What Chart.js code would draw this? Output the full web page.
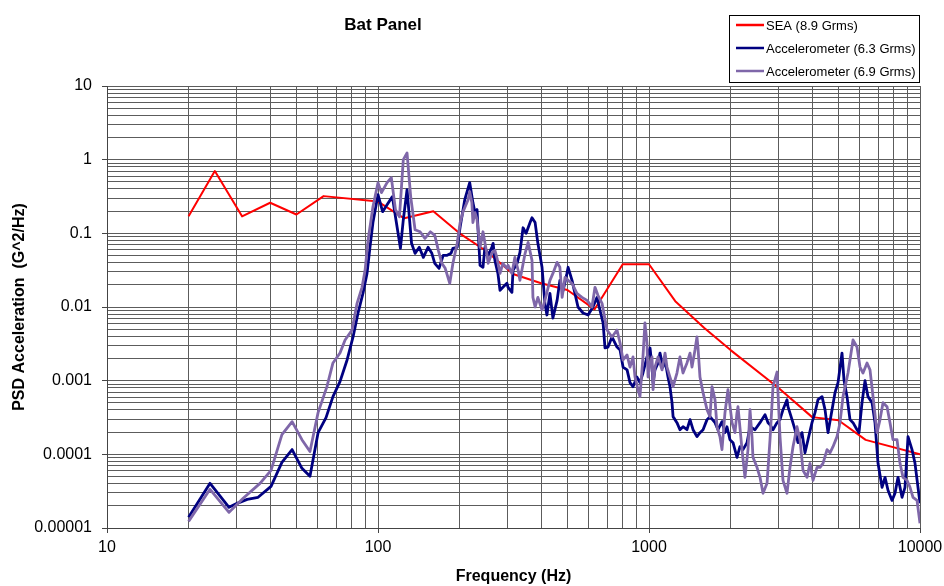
<!DOCTYPE html>
<html>
<head>
<meta charset="utf-8">
<title>Bat Panel</title>
<script src="https://cdn.jsdelivr.net/npm/chart.js@4.4.1/dist/chart.umd.min.js"></script>
<style>
  html, body { margin: 0; padding: 0; background: #ffffff; }
  canvas { display: block; }
</style>
</head>
<body>
<canvas id="psdChart" width="944" height="586"></canvas>
<script>
// SEA spec (8.9 Grms)
const seaFreq = [20, 25, 31.5, 40, 50, 63, 100, 125, 160, 200, 250, 315, 400, 500, 630, 800, 1000, 1250, 1600, 2000, 3000, 4000, 5000, 6300, 10000];
const seaPsd = [0.17, 0.70, 0.17, 0.26, 0.18, 0.32, 0.27, 0.16, 0.20, 0.10, 0.058, 0.028, 0.021, 0.017, 0.0093, 0.038, 0.038, 0.012, 0.0052, 0.0026, 0.0008, 0.00032, 0.00029, 0.000157, 0.0001];

// Accelerometer (6.3 Grms)
const acc1Freq = [20, 24.0, 28.2, 30.2, 32.9, 36.1, 40.3, 44.2, 48.2, 52.4, 56.1, 60.1, 64.3, 68.2, 72.4, 76.9, 80.9, 84.4, 88.0, 91.1,
  93.4, 95.8, 100, 104, 108, 113, 116, 121, 124, 128, 133, 137, 142, 147, 153, 158, 162, 168, 174, 180,
  186, 189, 196, 201, 209, 218, 224, 228, 232, 234, 238, 244, 248, 255, 263, 266, 270, 277, 282, 289,
  299, 302, 312, 315, 326, 334, 343, 352, 364, 370, 380, 389, 403, 413, 420, 431, 442, 458, 469, 482,
  498, 503, 520, 533, 547, 571, 596, 621, 643, 659, 677, 688, 706, 730, 762, 782, 802, 830, 851, 873,
  903, 926, 950, 983, 1009, 1026, 1035, 1052, 1080, 1098, 1126, 1146, 1175, 1195, 1216, 1227, 1268, 1301, 1335, 1381,
  1417, 1454, 1503, 1542, 1583, 1637, 1679, 1752, 1797, 1859, 1907, 1940, 1990, 2042, 2112, 2166, 2222, 2300, 2359, 2461,
  2568, 2680, 2749, 2796, 2868, 2968, 3044, 3122, 3230, 3257, 3371, 3457, 3547, 3670, 3764, 3861, 3995, 4098, 4204, 4350,
  4462, 4577, 4736, 4857, 4983, 5155, 5243, 5379, 5517, 5660, 5856, 5956, 6110, 6267, 6429, 6653, 6823, 7000, 7243, 7429,
  7620, 7885, 8087, 8296, 8584, 8804, 9032, 9344, 9584, 9831, 10000];
const acc1Psd = [1.40e-5, 4.04e-5, 1.91e-5, 2.16e-5, 2.45e-5, 2.61e-5, 3.68e-5, 7.79e-5, 1.16e-4, 6.46e-5, 5.03e-5, 1.97e-4, 3.15e-4, 6.07e-4, 9.69e-4, 1.91e-3, 3.92e-3, 8.29e-3, 0.0153, 0.0286,
  0.0646, 0.140, 0.335, 0.197, 0.245, 0.315, 0.168, 0.0626, 0.153, 0.392, 0.0732, 0.0535, 0.0646, 0.0472, 0.0646, 0.0535, 0.0392, 0.0335, 0.0503, 0.0503,
  0.0535, 0.0626, 0.0646, 0.123, 0.286, 0.487, 0.261, 0.191, 0.210, 0.112, 0.0368, 0.0346, 0.0646, 0.0503, 0.0646, 0.0732, 0.0430, 0.0286, 0.0168, 0.0185,
  0.0210, 0.0185, 0.0158, 0.0315, 0.0392, 0.0552, 0.119, 0.100, 0.140, 0.163, 0.140, 0.0732, 0.0346, 0.0112, 0.00779, 0.0153, 0.00709, 0.0123, 0.0230, 0.0168,
  0.0286, 0.0346, 0.0230, 0.0153, 0.0100, 0.00829, 0.00779, 0.0100, 0.0135, 0.00911, 0.00607, 0.00278, 0.00286, 0.00392, 0.00286, 0.00261, 0.00153, 0.00140, 0.000939, 0.000829,
  0.00112, 0.000939, 0.00127, 0.00210, 0.00278, 0.00153, 0.000939, 0.00140, 0.00174, 0.00237, 0.00153, 0.00191, 0.00112, 0.000829, 0.000503, 0.000325, 0.000269, 0.000216, 0.000237, 0.000216,
  0.000296, 0.000216, 0.000174, 0.000197, 0.000216, 0.000296, 0.000325, 0.000269, 0.000216, 0.000278, 0.000197, 0.000237, 0.000158, 0.000144, 0.0000911, 0.000127, 0.000116, 0.000144, 0.000237, 0.000216,
  0.000269, 0.000346, 0.000269, 0.000253, 0.000216, 0.000269, 0.000296, 0.000404, 0.000552, 0.000444, 0.000296, 0.000216, 0.000144, 0.000197, 0.000105, 0.000158, 0.000269, 0.000368, 0.000552, 0.000607,
  0.000404, 0.000197, 0.000404, 0.000687, 0.000939, 0.00237, 0.00102, 0.000607, 0.000296, 0.000269, 0.000216, 0.000197, 0.000503, 0.00100, 0.000607, 0.000503, 0.000269, 0.0000755, 0.0000357, 0.0000487,
  0.0000325, 0.0000237, 0.0000296, 0.0000487, 0.0000261, 0.0000357, 0.000174, 0.000116, 0.0000755, 0.0000357, 0.0000216];

// Accelerometer (6.9 Grms)
const acc2Freq = [20, 24.0, 28.2, 31.8, 36.7, 40.3, 44.2, 48.2, 52.4, 56.1, 60.1, 64.8, 68.2, 72.4, 75.6, 80.2, 83.7, 87.3, 89.6, 91.9,
  95.8, 100, 103, 108, 112, 116, 120, 124, 128, 132, 137, 143, 149, 156, 162, 167, 172, 177, 184, 189,
  196, 201, 206, 215, 218, 222, 224, 228, 232, 238, 244, 252, 255, 263, 270, 275, 282, 289, 299, 302,
  312, 320, 329, 334, 349, 358, 370, 373, 380, 389, 403, 413, 431, 442, 458, 469, 478, 490, 503, 520,
  542, 566, 591, 616, 632, 648, 671, 700, 730, 762, 782, 802, 830, 851, 873, 888, 911, 926, 950, 966,
  983, 992, 1009, 1026, 1035, 1052, 1080, 1117, 1146, 1165, 1195, 1227, 1268, 1301, 1335, 1381, 1417, 1441, 1478, 1503,
  1516, 1542, 1583, 1637, 1679, 1708, 1752, 1782, 1827, 1859, 1907, 1956, 2025, 2076, 2112, 2130, 2204, 2260, 2319, 2359,
  2399, 2419, 2503, 2568, 2635, 2726, 2796, 2868, 2968, 3044, 3122, 3230, 3313, 3399, 3517, 3607, 3701, 3828, 3927, 4029,
  4169, 4276, 4387, 4539, 4655, 4775, 4941, 5068, 5199, 5424, 5660, 5856, 6007, 6162, 6376, 6539, 6709, 6941, 7119, 7304,
  7557, 7750, 7951, 8227, 8438, 8656, 8957, 9186, 9423, 9749, 10000];
const acc2Psd = [1.23e-5, 3.35e-5, 1.63e-5, 2.53e-5, 4.04e-5, 6.07e-5, 1.85e-4, 2.78e-4, 1.58e-4, 1.09e-4, 3.68e-4, 8.29e-4, 1.74e-3, 2.37e-3, 3.57e-3, 4.87e-3, 0.0112, 0.0185, 0.0315, 0.0804,
  0.230, 0.487, 0.357, 0.487, 0.570, 0.210, 0.168, 1.0, 1.23, 0.315, 0.112, 0.105, 0.0855, 0.105, 0.0939, 0.0588, 0.0392, 0.0335, 0.0210, 0.0392,
  0.0732, 0.140, 0.197, 0.286, 0.368, 0.261, 0.140, 0.191, 0.153, 0.0646, 0.105, 0.0535, 0.0392, 0.0535, 0.0588, 0.0458, 0.0286, 0.0392, 0.0335, 0.0368,
  0.0286, 0.0472, 0.0315, 0.0230, 0.0535, 0.0755, 0.0430, 0.0135, 0.0100, 0.0135, 0.00911, 0.0123, 0.0230, 0.0286, 0.0404, 0.0346, 0.0135, 0.0253, 0.0230, 0.0210,
  0.0153, 0.0135, 0.0123, 0.0100, 0.0185, 0.0144, 0.0112, 0.00487, 0.00392, 0.00487, 0.00325, 0.00191, 0.00223, 0.00153, 0.00210, 0.00112, 0.000755, 0.000607, 0.00210, 0.00607,
  0.00325, 0.00112, 0.00174, 0.00210, 0.000755, 0.00153, 0.00210, 0.00140, 0.00237, 0.00153, 0.00112, 0.000829, 0.00127, 0.00210, 0.00127, 0.00174, 0.00237, 0.00153, 0.00261, 0.00392,
  0.00286, 0.00112, 0.000687, 0.000404, 0.000325, 0.000829, 0.000552, 0.000237, 0.000174, 0.000116, 0.000368, 0.000755, 0.000269, 0.000197, 0.000368, 0.000444, 0.000116, 0.0000487, 0.000116, 0.000404,
  0.000174, 0.0000911, 0.0000666, 0.0000487, 0.0000296, 0.0000404, 0.000158, 0.000829, 0.00131, 0.000174, 0.0000444, 0.0000296, 0.0000666, 0.000127, 0.000237, 0.000158, 0.0000607, 0.0000487, 0.0000755, 0.0000444,
  0.0000666, 0.0000666, 0.0000755, 0.000116, 0.000105, 0.000127, 0.000174, 0.000269, 0.000607, 0.00127, 0.00357, 0.00286, 0.00153, 0.00127, 0.00174, 0.00140, 0.000607, 0.000197, 0.000296, 0.000503,
  0.000444, 0.000269, 0.000158, 0.000158, 0.0000755, 0.0000487, 0.0000444, 0.0000357, 0.0000261, 0.0000237, 0.0000116];

const seriesLabels = ["SEA (8.9 Grms)", "Accelerometer (6.3 Grms)", "Accelerometer (6.9 Grms)"];
const seriesColors = ["#ff0000", "#000080", "#7f67a9"];

// decade tick labels, minor grid lines fill in 2..9 between them
const xTickLabels = ["10", "100", "1000", "10000"];
const yTickLabels = ["0.00001", "0.0001", "0.001", "0.01", "0.1", "1", "10"];

const FONT = "'Liberation Sans', Arial, sans-serif";

function decadeTicks(labels) {
    const decades = labels.map(Number);
    const ticks = [];
    for (let i = 0; i < decades.length - 1; i++) {
        for (let k = 1; k <= 9; k++) {
            ticks.push({ value: Number((decades[i] * k).toPrecision(6)) });
        }
    }
    ticks.push({ value: decades[decades.length - 1] });
    return ticks;
}

function isDecade(v) {
    const l = Math.log10(v);
    return Math.abs(l - Math.round(l)) < 1e-9;
}

function toPoints(xs, ys) {
    return xs.map((x, i) => ({ x: x, y: ys[i] }));
}

// title + boxed legend drawn by hand so they sit where the original has them
const extrasPlugin = {
    id: "extras",
    afterDraw(chart) {
        const ctx = chart.ctx;
        ctx.save();
        ctx.fillStyle = "#000";
        ctx.font = "bold 17px " + FONT;
        ctx.textAlign = "center";
        ctx.textBaseline = "middle";
        ctx.fillText("Bat Panel", 383, 25);

        // legend box
        ctx.strokeStyle = "#000";
        ctx.lineWidth = 1;
        ctx.strokeRect(729.5, 15.5, 190, 67);
        ctx.font = "13px " + FONT;
        ctx.textAlign = "left";
        chart.data.datasets.forEach((ds, i) => {
            const y = 25 + i * 23;
            ctx.strokeStyle = ds.borderColor;
            ctx.lineWidth = 2.5;
            ctx.beginPath();
            ctx.moveTo(736, y);
            ctx.lineTo(764, y);
            ctx.stroke();
            ctx.fillText(ds.label, 766, y + 1);
        });
        ctx.restore();
    }
};

const gridColor = "#5c5c5c";

const chart = new Chart(document.getElementById("psdChart"), {
    type: "line",
    data: {
        datasets: [
            {
                label: seriesLabels[0],
                data: toPoints(seaFreq, seaPsd),
                borderColor: seriesColors[0],
                borderWidth: 2,
                pointRadius: 0,
                order: 3
            },
            {
                label: seriesLabels[1],
                data: toPoints(acc1Freq, acc1Psd),
                borderColor: seriesColors[1],
                borderWidth: 2.8,
                pointRadius: 0,
                order: 2
            },
            {
                label: seriesLabels[2],
                data: toPoints(acc2Freq, acc2Psd),
                borderColor: seriesColors[2],
                borderWidth: 2.8,
                pointRadius: 0,
                order: 1
            }
        ]
    },
    options: {
        responsive: false,
        animation: false,
        layout: { padding: { left: 0, right: 24, top: 86, bottom: 0 } },
        elements: { line: { tension: 0, borderJoinStyle: "round" } },
        plugins: {
            legend: { display: false },
            tooltip: { enabled: false },
            title: { display: false }
        },
        scales: {
            x: {
                type: "logarithmic",
                min: 10,
                max: 10000,
                afterBuildTicks: (scale) => { scale.ticks = decadeTicks(xTickLabels); },
                afterFit: (scale) => {
                    scale.height = 58;
                    scale.paddingLeft = 0;
                    scale.paddingRight = 0;
                },
                grid: {
                    color: gridColor,
                    lineWidth: 1,
                    tickLength: 5,
                    tickColor: (c) => (c.tick && isDecade(c.tick.value)) ? "#444" : "rgba(0,0,0,0)"
                },
                border: { color: "#444" },
                ticks: {
                    autoSkip: false,
                    maxRotation: 0,
                    padding: 5,
                    color: "#000",
                    font: { family: FONT, size: 16 },
                    callback: (v) => isDecade(v) ? String(v) : ""
                },
                title: {
                    display: true,
                    text: "Frequency (Hz)",
                    color: "#000",
                    font: { family: FONT, size: 16, weight: "bold" },
                    padding: { top: 0, bottom: 0 }
                }
            },
            y: {
                type: "logarithmic",
                min: 0.00001,
                max: 10,
                afterBuildTicks: (scale) => { scale.ticks = decadeTicks(yTickLabels); },
                afterFit: (scale) => {
                    scale.width = 107;
                    scale.paddingTop = 0;
                    scale.paddingBottom = 0;
                },
                grid: {
                    color: gridColor,
                    lineWidth: 1,
                    tickLength: 5,
                    tickColor: (c) => (c.tick && isDecade(c.tick.value)) ? "#444" : "rgba(0,0,0,0)"
                },
                border: { color: "#444" },
                ticks: {
                    autoSkip: false,
                    padding: 10,
                    color: "#000",
                    font: { family: FONT, size: 16 },
                    callback: (v) => {
                        if (!isDecade(v)) return "";
                        const idx = Math.round(Math.log10(v)) + 5;
                        return yTickLabels[idx];
                    }
                },
                title: {
                    display: true,
                    text: "PSD Acceleration  (G^2/Hz)",
                    color: "#000",
                    font: { family: FONT, size: 16, weight: "bold" },
                    padding: { top: 10, bottom: 0 }
                }
            }
        }
    },
    plugins: [extrasPlugin]
});
</script>
</body>
</html>
